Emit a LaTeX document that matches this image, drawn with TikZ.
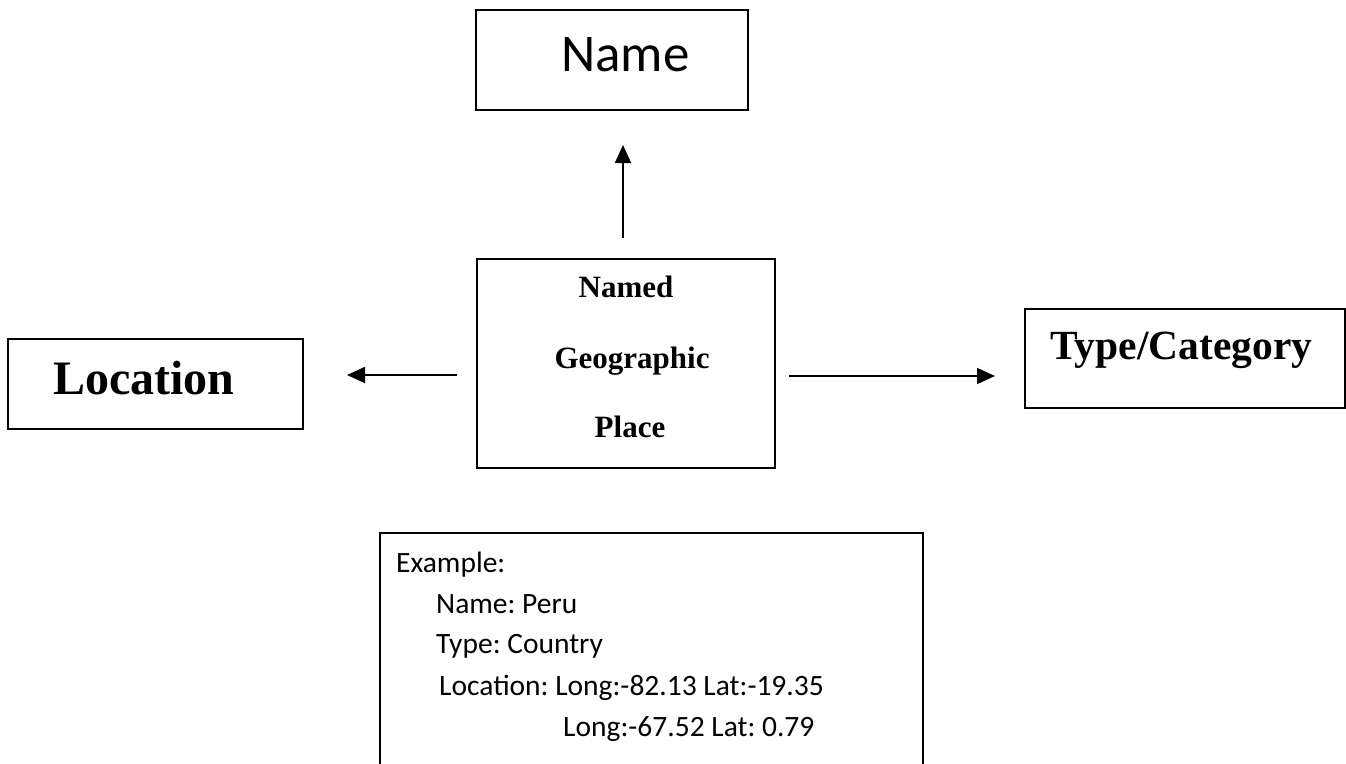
\documentclass[tikz,border=0pt]{standalone}
\usepackage{fontspec}
\setmainfont{Liberation Serif}
\newfontfamily\calfont{Carlito}
\usetikzlibrary{arrows.meta}
\frenchspacing
\tikzset{
  box/.style={draw=black, line width=1.6pt, inner sep=0pt, fill=none},
  arr/.style={line width=1.8pt, -{Triangle[length=18pt,width=16pt]}},
  txt/.style={inner sep=0pt, anchor=base west},
  serifb/.style={font=\bfseries\fontsize{31}{31}\selectfont},
  exfont/.style={font=\calfont\fontsize{29.5}{29.5}\selectfont}
}
\begin{document}
\begin{tikzpicture}[x=1pt,y=-1pt]
\useasboundingbox (0,0) rectangle (1346,763);
\clip (0,0) rectangle (1346,763);
% boxes
\node[box, minimum width=272pt, minimum height=100pt] (namebox) at (612,60) {};
\node[box, minimum width=298pt, minimum height=209pt] (ngp) at (626,363.5) {};
\node[box, minimum width=295pt, minimum height=90pt] (locbox) at (155.5,384) {};
\node[box, minimum width=320pt, minimum height=99pt] (typebox) at (1185,358.5) {};
\node[box, minimum width=543pt, minimum height=260pt] (exbox) at (651.5,663) {};
% texts
\node[txt, font=\calfont\fontsize{53}{53}\selectfont] (nametxt) at (561,71) {Name};
\node[txt, serifb, anchor=base] (l1) at (626,297) {Named};
\node[txt, serifb, anchor=base] (l2) at (632,368) {Geographic};
\node[txt, serifb, anchor=base] (l3) at (630,437) {Place};
\node[txt, font=\bfseries\fontsize{48}{48}\selectfont] (loctxt) at (53,394) {Location};
\node[txt, font=\bfseries\fontsize{41.5}{41.5}\selectfont] (typetxt) at (1050,359) {Type/Category};
\node[txt, exfont] (e1) at (396,572) {Example:};
\node[txt, exfont] (e2) at (436,613) {Name: Peru};
\node[txt, exfont] (e3) at (436,653) {Type: Country};
\node[txt, exfont] (e4) at (439,695) {Location: Long:-82.13 Lat:-19.35};
\node[txt, exfont] (e5) at (563,736) {Long:-67.52 Lat: 0.79};
% arrows
\coordinate (upS) at (623,238);
\coordinate (upE) at (623,145);
\coordinate (lfS) at (457,375);
\coordinate (lfE) at (347,375);
\coordinate (rtS) at (789,376);
\coordinate (rtE) at (995,376);
\draw[arr] (upS) -- (upE);
\draw[arr] (lfS) -- (lfE);
\draw[arr] (rtS) -- (rtE);
\end{tikzpicture}
\end{document}
